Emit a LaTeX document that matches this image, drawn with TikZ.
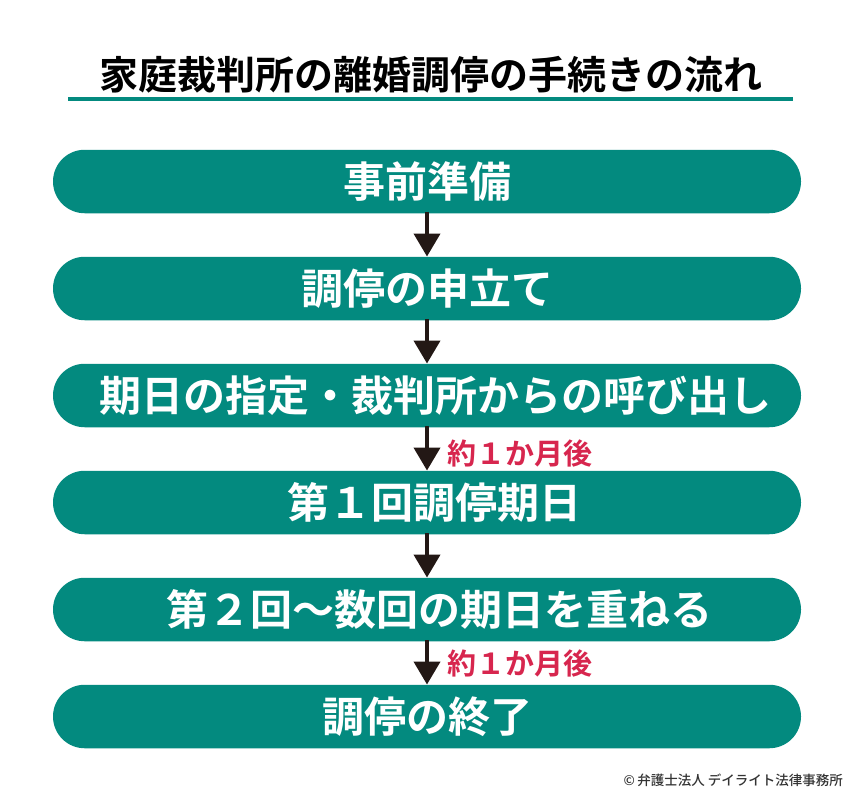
\documentclass[tikz,border=0pt]{standalone}
\usepackage{fontspec}
\usetikzlibrary{arrows.meta}
\newfontfamily\jpb{Noto Sans CJK JP Bold}
\newfontfamily\jpm{Noto Sans CJK JP Medium}
\definecolor{teal1}{HTML}{038A7F}
\definecolor{arrowc}{HTML}{231815}
\definecolor{redlab}{HTML}{D7264E}
\definecolor{copyc}{HTML}{333333}
\tikzset{
  stepbox/.style={fill=teal1, rounded corners=31.7pt, minimum width=748pt, minimum height=63.5pt, inner sep=0pt, text=white, font=\jpb\fontsize{42}{42}\selectfont},
  flowarrow/.style={draw=arrowc, line width=4pt, -{Triangle[width=26pt,length=23pt]}, shorten <=-1pt},
  redlabel/.style={anchor=west, text=redlab, inner sep=0pt, font=\jpb\fontsize{29}{29}\selectfont},
}
\begin{document}
\begin{tikzpicture}[x=1pt,y=-1pt]
\useasboundingbox (0,0) rectangle (850,800);
\node[inner sep=0pt, font=\jpb\fontsize{39}{39}\selectfont, text=black] (title) at (431,75) {家庭裁判所の離婚調停の手続きの流れ};
\coordinate (ulA) at (68,99);
\coordinate (ulB) at (793,99);
\draw[teal1, line width=4pt] (ulA) -- (ulB);
\node[stepbox] (b1) at (427,181.5) {事前準備};
\node[stepbox] (b2) at (427,288.5) {調停の申立て};
\node[stepbox] (b3) at (427,395.5) {\hspace*{16pt}期日の指定・裁判所からの呼び出し};
\node[stepbox] (b4) at (427,502.5) {\hspace*{14pt}第１回調停期日};
\node[stepbox] (b5) at (427,609.5) {\hspace*{24pt}第２回～数回の期日を重ねる};
\node[stepbox] (b6) at (427,716.5) {調停の終了};
\draw[flowarrow] (b1.south) -- (b2.north);
\draw[flowarrow] (b2.south) -- (b3.north);
\draw[flowarrow] (b3.south) -- (b4.north);
\draw[flowarrow] (b4.south) -- (b5.north);
\draw[flowarrow] (b5.south) -- (b6.north);
\node[redlabel] (l1) at (447,453) {約１か月後};
\node[redlabel] (l2) at (447,663) {約１か月後};
\node[anchor=east, inner sep=0pt, text=copyc, font=\jpm\fontsize{13.5}{13.5}\selectfont] (copy) at (843,780) {©\,弁護士法人 デイライト法律事務所};
\end{tikzpicture}
\end{document}
